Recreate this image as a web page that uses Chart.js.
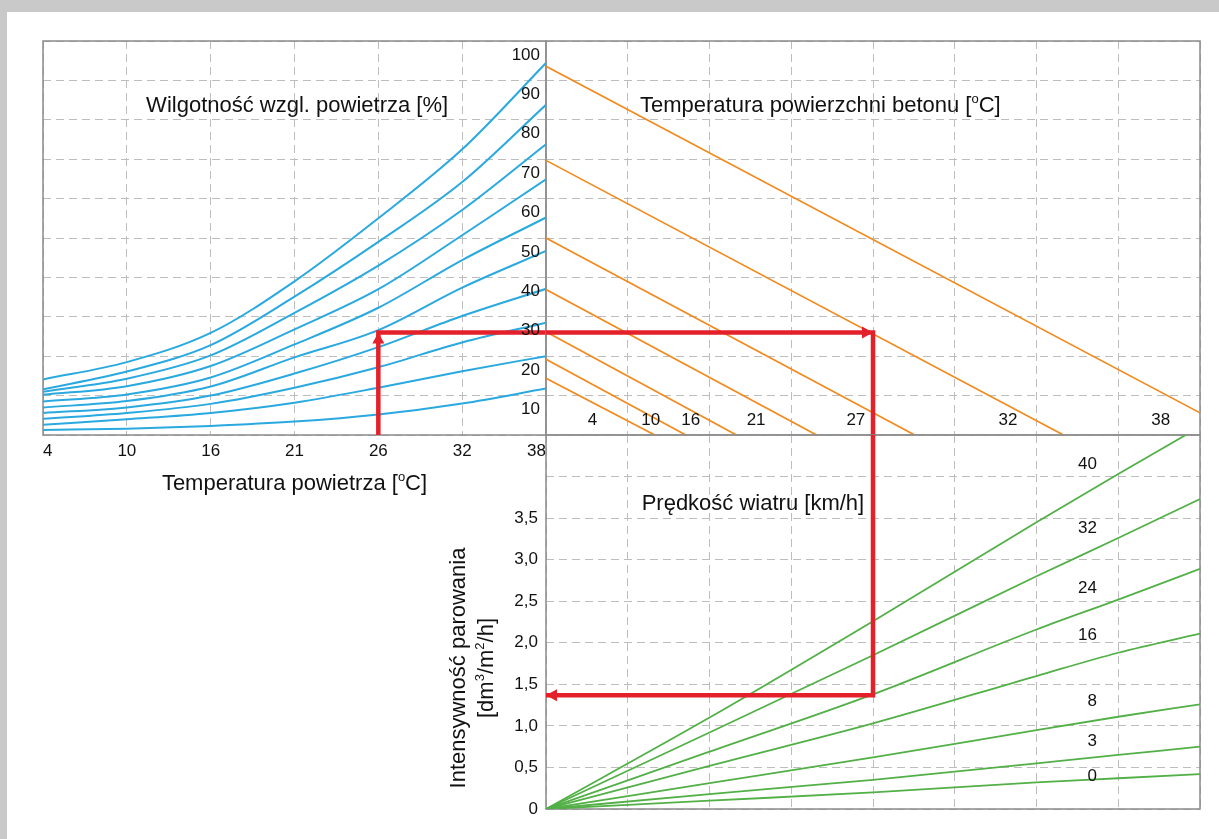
<!DOCTYPE html>
<html lang="pl">
<head>
<meta charset="utf-8">
<title>Nomogram intensywności parowania</title>
<script src="https://cdn.jsdelivr.net/npm/chart.js@4.4.1/dist/chart.umd.min.js"></script>
<style>
  html, body { margin: 0; padding: 0; }
  body { width: 1219px; height: 839px; position: relative; overflow: hidden;
         background: #c9c9c9; }
  #sheet { position: absolute; left: 7px; top: 12px; right: 0; bottom: 0; background: #fff; }
  canvas { position: absolute; }
  #chartA { left: 0; top: 0; }
  #chartB { left: 486px; top: 0; }
  #chartC { left: 420px; top: 430px; }
</style>
</head>
<body>
<div id="sheet"></div>
<canvas id="chartA" width="560" height="520"></canvas>
<canvas id="chartB" width="733" height="440"></canvas>
<canvas id="chartC" width="799" height="409"></canvas>
<script>
// --- dane ---------------------------------------------------------------
// temperatura powietrza: oś w °F, opisy w °C
const airTempF = [40, 50, 60, 70, 80, 90, 100];
const airTempLabels = ['4', '10', '16', '21', '26', '32', '38'];

// krzywe wilgotności względnej (wartość na wspólnej osi pionowej)
const humidityLabels = ['10', '20', '30', '40', '50', '60', '70', '80', '90', '100'];
const rh100 = [14.1, 18.5, 25.9, 39.0, 55.0, 72.5, 94.4];
const rh90 = [11.6, 16.1, 22.8, 35.1, 49.0, 64.2, 83.8];
const rh80 = [11.0, 14.3, 20.2, 31.0, 43.0, 57.1, 73.8];
const rh70 = [10.2, 12.4, 17.5, 26.8, 37.0, 50.7, 64.9];
const rh60 = [8.5, 10.3, 14.6, 23.0, 32.3, 44.4, 55.2];
const rh50 = [7.0, 8.6, 12.3, 19.7, 26.6, 37.4, 46.7];
const rh40 = [5.6, 7.0, 10.0, 15.6, 22.3, 30.2, 37.1];
const rh30 = [4.1, 5.6, 7.9, 12.0, 17.2, 23.5, 28.5];
const rh20 = [2.6, 4.0, 5.6, 8.2, 12.0, 16.2, 20.0];
const rh10 = [1.3, 1.6, 2.3, 3.4, 5.2, 8.0, 11.8];

// linie temperatury powierzchni betonu: początek na lewej krawędzi, koniec na osi 0
const concreteLabels = ['4', '10', '16', '21', '27', '32', '38'];
const concreteStart = [14.4, 19.2, 26.2, 36.9, 50.0, 69.7, 93.6];
const concreteEnd = [1.33, 1.71, 2.33, 3.31, 4.51, 6.33, 8.51];

// prędkość wiatru [km/h] -> intensywność parowania
const windX = [0, 2, 4, 6, 7, 8];
const windLabels = ['0', '3', '8', '16', '24', '32', '40'];
const wind0 = [0, 0.10, 0.20, 0.32, 0.37, 0.42];
const wind3 = [0, 0.18, 0.35, 0.55, 0.65, 0.75];
const wind8 = [0, 0.31, 0.62, 0.95, 1.11, 1.26];
const wind16 = [0, 0.52, 1.03, 1.60, 1.88, 2.11];
const wind24 = [0, 0.69, 1.38, 2.16, 2.52, 2.89];
const wind32 = [0, 0.92, 1.85, 2.80, 3.26, 3.73];
const wind40 = [0, 1.10, 2.26, 3.45, 4.03, 4.60];
const rateLabels = ['0', '0,5', '1,0', '1,5', '2,0', '2,5', '3,0', '3,5'];

// przykład odczytu (czerwona ścieżka)
const exampleAirF = 80;
const exampleLevel = 26;
const exampleDiff = 4;
const exampleRate = 1.37;

// --- wygląd ------------------------------------------------------------
const FONT = '"Liberation Sans", Arial, Helvetica, sans-serif';
const INK = '#111';
const BLUE = '#2aa9e0', ORANGE = '#f28a1e', GREEN = '#52b047', RED = '#e4202a';
const GRID = { color: '#bdbdbd', lineWidth: 1, drawTicks: false };
const BORDER = { display: false, dash: [8, 5] };
const concreteLabelX = [0.57, 1.28, 1.77, 2.57, 3.79, 5.65, 7.52];
const windLabelY = [0.39, 0.82, 1.29, 2.09, 2.66, 3.38, 4.15];

function pts(xs, ys) { return xs.map((x, i) => ({ x, y: ys[i] })); }

function line(data, color, width, extra) {
  return Object.assign({ data, borderColor: color, borderWidth: width, pointRadius: 0,
    fill: false, tension: 0, order: 1 }, extra || {});
}

// stały rozmiar osi, bez dodatkowych marginesów na etykiety skrajne
function fixSize(w, h) {
  return s => {
    if (w !== null) s.width = w;
    if (h !== null) s.height = h;
    s.paddingTop = 0; s.paddingBottom = 0; s.paddingLeft = 0; s.paddingRight = 0;
  };
}

function richWidth(ctx, parts, size) {
  let w = 0;
  for (const p of parts) {
    ctx.font = (p.sup ? Math.round(size * 0.6) : size) + 'px ' + FONT;
    w += ctx.measureText(p.t).width;
  }
  return w;
}

function drawRich(ctx, parts, x, y, size, align) {
  const w = richWidth(ctx, parts, size);
  let cx = align === 'center' ? x - w / 2 : align === 'right' ? x - w : x;
  ctx.textAlign = 'left';
  ctx.textBaseline = 'middle';
  ctx.fillStyle = INK;
  for (const p of parts) {
    const s = p.sup ? Math.round(size * 0.6) : size;
    ctx.font = s + 'px ' + FONT;
    ctx.fillText(p.t, cx, p.sup ? y - size * 0.3 : y);
    cx += ctx.measureText(p.t).width;
  }
}

// ramka, napisy i groty strzałek
function overlay(id, texts, arrows) {
  return {
    id,
    beforeDatasetsDraw(chart) {
      const a = chart.chartArea, ctx = chart.ctx;
      ctx.save();
      ctx.strokeStyle = '#8a8a8a';
      ctx.lineWidth = 1.5;
      ctx.strokeRect(a.left, a.top, a.right - a.left, a.bottom - a.top);
      ctx.restore();
    },
    afterDatasetsDraw(chart) {
      const a = chart.chartArea, ctx = chart.ctx;
      const sx = chart.scales.x, sy = chart.scales.y;
      ctx.save();
      for (const t of texts) {
        let px, py;
        if (t.area) { px = a.left + t.x; py = a.top + t.y; }
        else { px = sx.getPixelForValue(t.x); py = sy.getPixelForValue(t.y); }
        ctx.save();
        ctx.translate(px, py);
        if (t.rotate) ctx.rotate(t.rotate);
        drawRich(ctx, t.parts, 0, 0, t.size, t.align);
        ctx.restore();
      }
      ctx.fillStyle = RED;
      for (const r of arrows) {
        const px = sx.getPixelForValue(r.x), py = sy.getPixelForValue(r.y);
        const L = 11, H = 6;
        ctx.beginPath();
        if (r.dir === 'up') { ctx.moveTo(px, py); ctx.lineTo(px - H, py + L); ctx.lineTo(px + H, py + L); }
        if (r.dir === 'right') { ctx.moveTo(px, py); ctx.lineTo(px - L, py - H); ctx.lineTo(px - L, py + H); }
        if (r.dir === 'left') { ctx.moveTo(px, py); ctx.lineTo(px + L, py - H); ctx.lineTo(px + L, py + H); }
        ctx.closePath();
        ctx.fill();
      }
      ctx.restore();
    }
  };
}

const tickFont = { family: FONT, size: 17 };
const degC = [{ t: '[' }, { t: 'o', sup: true }, { t: 'C]' }];
const baseOptions = {
  responsive: false,
  animation: false,
  devicePixelRatio: 1,
  plugins: { legend: { display: false }, tooltip: { enabled: false } },
  elements: { line: { borderCapStyle: 'butt', borderJoinStyle: 'miter' } }
};

// --- panel A: temperatura powietrza / wilgotność --------------------------
const humiditySeries = [rh100, rh90, rh80, rh70, rh60, rh50, rh40, rh30, rh20, rh10];
new Chart(document.getElementById('chartA'), {
  type: 'line',
  data: {
    datasets: humiditySeries.map(s => line(pts(airTempF, s), BLUE, 2, { cubicInterpolationMode: 'monotone' }))
      .concat([line([{ x: exampleAirF, y: 0 }, { x: exampleAirF, y: exampleLevel }, { x: 100, y: exampleLevel }], RED, 4.5, { order: 0 })])
  },
  options: Object.assign({}, baseOptions, {
    layout: { padding: { top: 41, right: 14, left: 0, bottom: 0 } },
    scales: {
      x: {
        type: 'linear', min: 40, max: 100,
        afterFit: fixSize(null, 85),
        ticks: { stepSize: 10, padding: 6, align: 'inner', color: INK, font: tickFont, maxRotation: 0, autoSkip: false,
          callback: v => airTempLabels[airTempF.indexOf(v)] },
        grid: GRID, border: BORDER
      },
      y: {
        type: 'linear', min: 0, max: 100,
        afterFit: fixSize(43, null),
        ticks: { stepSize: 10, display: false },
        grid: GRID, border: BORDER
      }
    }
  }),
  plugins: [overlay('overlayA', [
    { parts: [{ t: 'Wilgotność wzgl. powietrza [%]' }], x: 52.3, y: 83.4, size: 22, align: 'left' },
    { parts: [{ t: 'Temperatura powietrza ' }].concat(degC), area: true, x: 251.5, y: 443, size: 22, align: 'center' }
  ], [{ x: exampleAirF, y: exampleLevel, dir: 'up' }])]
});

// --- panel B: temperatura powierzchni betonu --------------------------------
new Chart(document.getElementById('chartB'), {
  type: 'line',
  data: {
    datasets: concreteStart.map((s, i) => line([{ x: 0, y: s }, { x: concreteEnd[i], y: 0 }], ORANGE, 1.7))
      .concat([line([{ x: 0, y: exampleLevel }, { x: exampleDiff, y: exampleLevel }, { x: exampleDiff, y: 0 }], RED, 4.5, { order: 0 })])
  },
  options: Object.assign({}, baseOptions, {
    layout: { padding: { top: 41, right: 19, left: 0, bottom: 0 } },
    scales: {
      x: {
        type: 'linear', min: 0, max: 8,
        afterFit: fixSize(null, 5),
        ticks: { stepSize: 1, display: false },
        grid: GRID, border: BORDER
      },
      y: {
        type: 'linear', min: 0, max: 100,
        afterFit: fixSize(60, null),
        ticks: { stepSize: 10, padding: 6, labelOffset: 14, color: INK, font: tickFont,
          callback: v => (v === 0 ? '' : humidityLabels[Math.round(v / 10) - 1]) },
        grid: GRID, border: BORDER
      }
    }
  }),
  plugins: [overlay('overlayB', [
    { parts: [{ t: 'Temperatura powierzchni betonu ' }].concat(degC), x: 1.15, y: 83.4, size: 22, align: 'left' }
  ].concat(concreteLabels.map((t, i) => ({ parts: [{ t }], x: concreteLabelX[i], y: 3.8, size: 17, align: 'center' }))),
  [{ x: exampleDiff, y: exampleLevel, dir: 'right' }])]
});

// --- panel C: prędkość wiatru / intensywność parowania ----------------------
const windSeries = [wind0, wind3, wind8, wind16, wind24, wind32, wind40];
new Chart(document.getElementById('chartC'), {
  type: 'line',
  data: {
    datasets: windSeries.map(s => line(pts(windX, s), GREEN, 1.8, { cubicInterpolationMode: 'monotone' }))
      .concat([line([{ x: exampleDiff, y: 4.5 }, { x: exampleDiff, y: exampleRate }, { x: 0, y: exampleRate }], RED, 4.5, { order: 0 })])
  },
  options: Object.assign({}, baseOptions, {
    layout: { padding: { top: 5, right: 19, left: 0, bottom: 0 } },
    scales: {
      x: {
        type: 'linear', min: 0, max: 8,
        afterFit: fixSize(null, 30),
        ticks: { stepSize: 1, display: false },
        grid: GRID, border: BORDER
      },
      y: {
        type: 'linear', min: 0, max: 4.5,
        afterFit: fixSize(126, null),
        ticks: { stepSize: 0.5, padding: 8, color: INK, font: tickFont,
          callback: v => rateLabels[Math.round(v * 2)] || '' },
        grid: GRID, border: BORDER
      }
    }
  }),
  plugins: [overlay('overlayC', [
    { parts: [{ t: 'Prędkość wiatru [km/h]' }], x: 1.17, y: 3.67, size: 22, align: 'left' },
    { parts: [{ t: 'Intensywność parowania' }], area: true, x: -87, y: 233, size: 22, align: 'center', rotate: -Math.PI / 2 },
    { parts: [{ t: '[dm' }, { t: '3', sup: true }, { t: '/m' }, { t: '2', sup: true }, { t: '/h]' }], area: true, x: -59, y: 233, size: 22, align: 'center', rotate: -Math.PI / 2 }
  ].concat(windLabels.map((t, i) => ({ parts: [{ t }], x: 6.74, y: windLabelY[i], size: 17, align: 'right' }))),
  [{ x: 0, y: exampleRate, dir: 'left' }])]
});
</script>
</body>
</html>
